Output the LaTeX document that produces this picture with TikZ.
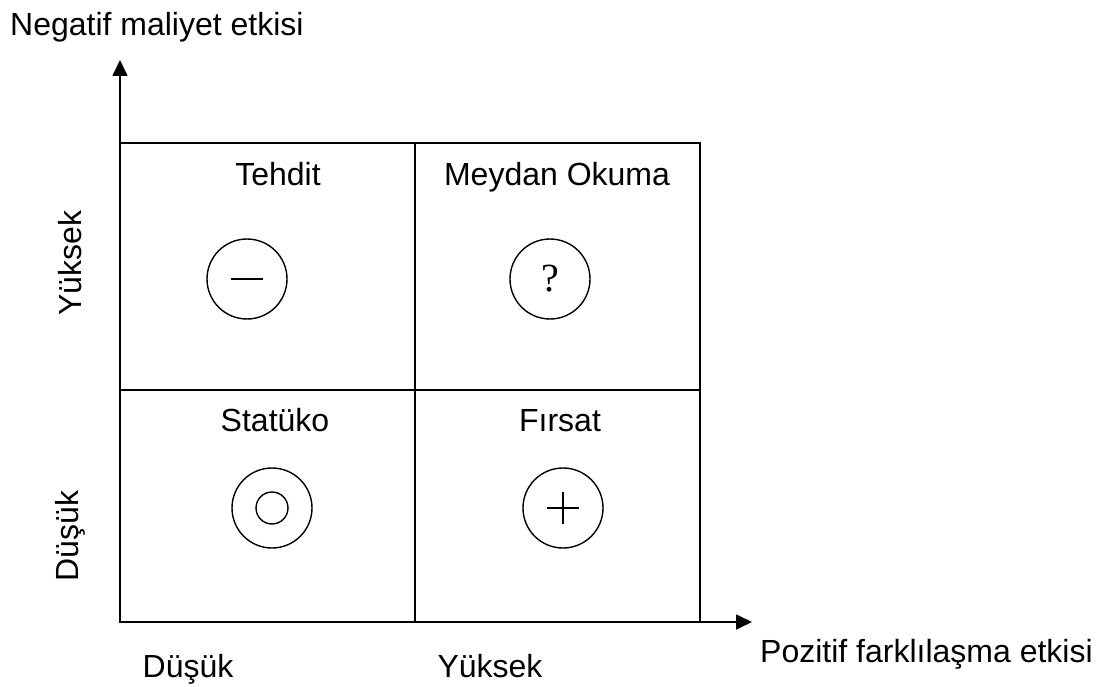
\documentclass[tikz,border=0pt]{standalone}
\usepackage{fontspec}
\setmainfont{Liberation Sans}
\newfontfamily\symserif{Liberation Serif}
\usetikzlibrary{arrows.meta}
\begin{document}
\begin{tikzpicture}[x=1pt,y=-1pt,
  frame/.style={line width=1.7pt},
  axis/.style={line width=1.7pt,-{Triangle[length=16pt,width=15pt]}},
  lbl/.style={font=\fontsize{32}{38}\selectfont,inner sep=0pt},
  sym/.style={circle,draw,line width=1.4pt,minimum size=80pt,inner sep=0pt},
  symline/.style={line width=1.4pt}]
\useasboundingbox (0,0) rectangle (1100,687);
% axes
\coordinate (O) at (120,622);
\coordinate (ytip) at (120,60);
\coordinate (xtip) at (752,622);
\draw[axis] (O) -- (ytip);
\draw[axis] (O) -- (xtip);
% matrix frame
\draw[frame] (120,143) rectangle (700,622);
\draw[frame] (415,143) -- (415,622);
\draw[frame] (120,390) -- (700,390);
% axis titles
\node[lbl,anchor=base west] (ytitle) at (10,36) {Negatif maliyet etkisi};
\node[lbl,anchor=base west] (xtitle) at (760,662) {Pozitif farkl\i la\c sma etkisi};
\node[lbl,rotate=90] (yhigh) at (70,263) {Yüksek};
\node[lbl,rotate=90] (ylow) at (70,536) {Düşük};
\node[lbl,anchor=base] (xlow) at (188,677) {Düşük};
\node[lbl,anchor=base] (xhigh) at (490,677) {Yüksek};
% quadrant titles
\node[lbl,anchor=base] (q1) at (278,186) {Tehdit};
\node[lbl,anchor=base] (q2) at (557,186) {Meydan Okuma};
\node[lbl,anchor=base] (q3) at (275,431) {Statüko};
\node[lbl,anchor=base] (q4) at (560,431) {Fırsat};
% quadrant symbols
\node[sym] (s1) at (247,279) {};
\draw[symline] ([xshift=-16pt]s1.center) -- ([xshift=16pt]s1.center);
\node[sym,font=\fontsize{40}{46}\selectfont\symserif] (s2) at (550,279) {?};
\node[sym] (s3) at (272,508) {};
\node[circle,draw,line width=1.4pt,minimum size=32pt,inner sep=0pt] (s3in) at (s3.center) {};
\node[sym] (s4) at (563,508) {};
\draw[symline] ([xshift=-16pt]s4.center) -- ([xshift=16pt]s4.center);
\draw[symline] ([yshift=-16pt]s4.center) -- ([yshift=16pt]s4.center);
\end{tikzpicture}
\end{document}
